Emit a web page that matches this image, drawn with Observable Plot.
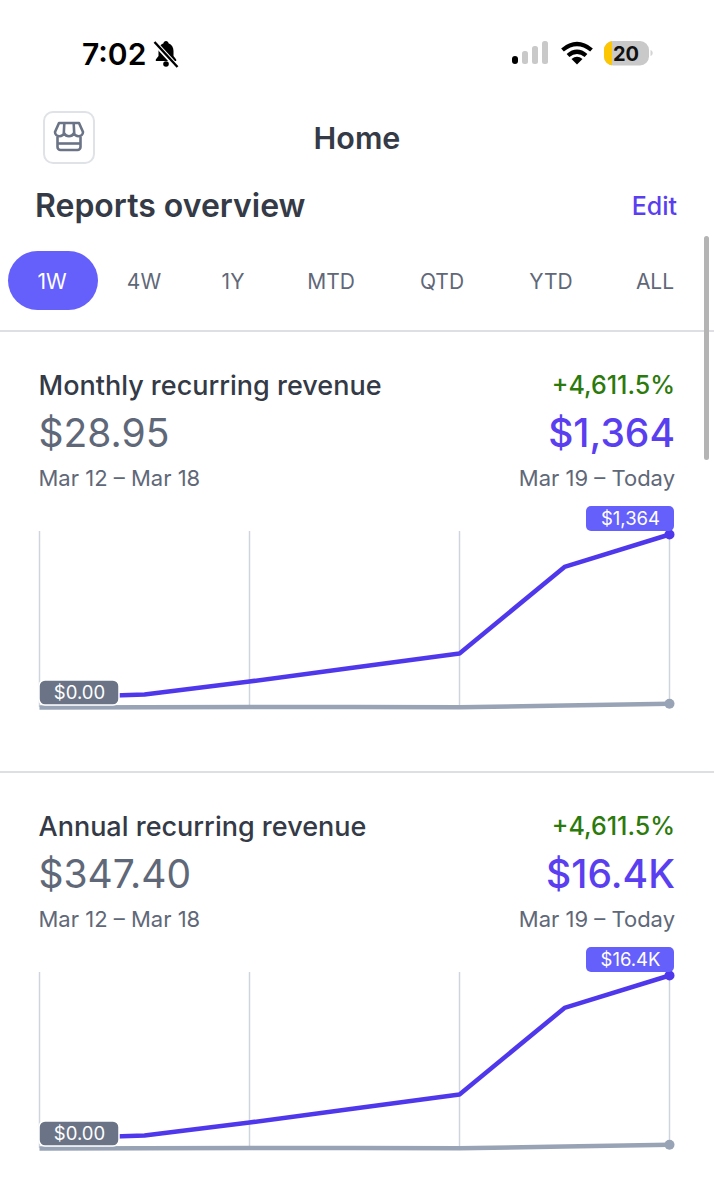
<!DOCTYPE html>
<html>
<head>
<meta charset="utf-8">
<script src="https://cdn.jsdelivr.net/npm/d3@7"></script>
<script src="https://cdn.jsdelivr.net/npm/@observablehq/plot@0.6"></script>
<style>
  html, body { margin: 0; padding: 0; background: #fff; }
  #page { position: relative; width: 714px; height: 1200px; overflow: hidden; font-family: Inter, "Noto Sans", sans-serif; background: #fff; }
  .t { position: absolute; white-space: nowrap; line-height: 1; transform: translateY(-50%); }
  .r { transform: translate(-100%, -50%); }
  .c { transform: translate(-50%, -50%); }
  .rule { position: absolute; left: 0; width: 714px; height: 2px; background: #dddfe3; }
  .box { position: absolute; }
  .chart { position: absolute; left: 0; }
  .chart svg { display: block; }
</style>
</head>
<body>
<div id="page"></div>
<script>
// ---- chart data ----
const days = [0, 1, 2, 3, 4, 5, 6];
const gridDays = [0, 2, 4, 6];
const mrrCurrent = [75, 102, 205, 315, 426, 1108, 1364];
const mrrPrevious = [0, 1, 3, 3, 1, 15, 28.95];
const arrCurrent = [900, 1224, 2460, 3780, 5112, 13296, 16368];
const arrPrevious = [0, 12, 36, 36, 12, 180, 347.4];

// ---- text ----
const tabs = ["1W", "4W", "1Y", "MTD", "QTD", "YTD", "ALL"];
const tabCenters = [52, 144, 233, 331, 442, 551, 655];
const cards = [
  { title: "Monthly recurring revenue", change: "+4,611.5%", previous: "$28.95", current: "$1,364",
    previousRange: "Mar 12 – Mar 18", currentRange: "Mar 19 – Today", startLabel: "$0.00",
    currentValues: mrrCurrent, previousValues: mrrPrevious, top: 0 },
  { title: "Annual recurring revenue", change: "+4,611.5%", previous: "$347.40", current: "$16.4K",
    previousRange: "Mar 12 – Mar 18", currentRange: "Mar 19 – Today", startLabel: "$0.00",
    currentValues: arrCurrent, previousValues: arrPrevious, top: 441 }
];

const INK = "#343a46", SLATE = "#5f6878", VIOLET = "#5a3ff0", LINE = "#4f38ec",
      BADGE = "#6560fb", GREY_BADGE = "#6b7486", GREY_LINE = "#98a4b6", GRID = "#cfd5de", GREEN = "#2b7a0b";

const page = document.getElementById("page");
function text(str, x, y, size, weight, color, cls = "") {
  const el = document.createElement("div");
  el.className = "t " + cls;
  el.textContent = str;
  el.style.cssText = `left:${x}px;top:${y}px;font-size:${size}px;font-weight:${weight};color:${color}`;
  page.appendChild(el);
  return el;
}
function html(markup) {
  const wrap = document.createElement("div");
  wrap.innerHTML = markup;
  while (wrap.firstChild) page.appendChild(wrap.firstChild);
}

// ---- status bar ----
text("7:02", 82, 54, 30, 600, "#000");
html(`<svg class="box" style="left:152px;top:40px" width="28" height="28" viewBox="0 0 28 28">
  <path d="M14 1c1.500 0 2.300 1 2.500 2.200 3.300 1.100 5 4 5 7.800v5l2.700 3.500v1.500H3.800v-1.500L6.500 16v-5c0-3.800 1.700-6.700 5-7.800C11.700 2 12.500 1 14 1z" fill="#000"/>
  <circle cx="14" cy="24" r="2.800" fill="#000"/>
  <path d="M2 2 L25 27" stroke="#fff" stroke-width="5"/><path d="M2.500 2 L25.500 27" stroke="#000" stroke-width="2.400"/></svg>`);
html(`<svg class="box" style="left:510px;top:40px" width="40" height="26" viewBox="0 0 40 26">
  <rect x="2" y="16" width="6" height="8" rx="3" fill="#000"/>
  <rect x="12" y="11" width="6" height="13" rx="2.500" fill="#c9c9c9"/>
  <rect x="22" y="6" width="6" height="18" rx="2.500" fill="#c9c9c9"/>
  <rect x="32" y="1" width="6" height="23" rx="2.500" fill="#c9c9c9"/></svg>`);
html(`<svg class="box" style="left:560px;top:40px" width="34" height="26" viewBox="0 0 34 26">
  <path d="M2.500 10 Q17 -2 31.500 10" fill="none" stroke="#000" stroke-width="4.200"/>
  <path d="M8 15.500 Q17 8 26 15.500" fill="none" stroke="#000" stroke-width="4.200"/>
  <path d="M17 24.500 L11.500 19 Q17 14.500 22.500 19 Z" fill="#000"/></svg>`);
html(`<svg class="box" style="left:603px;top:39px" width="52" height="28" viewBox="0 0 52 28">
  <defs><clipPath id="bat"><rect x="1" y="2" width="45" height="24.500" rx="9"/></clipPath></defs>
  <g clip-path="url(#bat)"><rect x="1" y="2" width="45" height="25" fill="#c9c9c9"/><rect x="1" y="2" width="8" height="25" fill="#fdc602"/></g>
  <path d="M47.500 11v6c1.600-.6 2.200-1.700 2.200-3s-.6-2.400-2.200-3z" fill="#d4d4d4"/></svg>`);
text("20", 626, 54, 20, 700, "#111", "c");

// ---- header ----
html(`<div class="box" style="left:43px;top:111px;width:48px;height:49px;border:2px solid #dfe2e6;border-radius:10px;background:#fff"></div>`);
html(`<svg class="box" style="left:52px;top:120px" width="34" height="34" viewBox="0 0 34 34" fill="none" stroke="#6b7486" stroke-width="2.600" stroke-linejoin="round">
  <path d="M7 3h20l4 9c0 2.600-2 4.200-4.600 4.200-1.900 0-3.600-1-4.600-2.800-.9 1.800-2.800 2.800-4.800 2.800s-3.900-1-4.800-2.800c-1 1.800-2.700 2.800-4.600 2.800C5 16.200 3 14.600 3 12z"/>
  <path d="M12.300 3.500 11.800 13M21.700 3.500 22.200 13"/>
  <path d="M5.500 16.500V27a3 3 0 0 0 3 3h17a3 3 0 0 0 3-3V16.500"/><path d="M5.500 23.500h23"/></svg>`);
text("Home", 357, 138, 30.5, 600, INK, "c");
text("Reports overview", 35, 206, 32, 600, INK);
text("Edit", 677, 206, 25, 500, VIOLET, "r");

// ---- period tabs ----
html(`<div class="box" style="left:8px;top:251px;width:90px;height:59px;border-radius:30px;background:${BADGE}"></div>`);
tabs.forEach((tab, i) => text(tab, tabCenters[i], 281, 21, 400, i === 0 ? "#fff" : SLATE, "c"));
html(`<div class="rule" style="top:330px"></div>`);
html(`<div class="box" style="left:704px;top:236px;width:5px;height:224px;border-radius:3px;background:#b4b4b4"></div>`);

// ---- report cards ----
function sparkline(card) {
  const rows = days.map((d, i) => ({ day: d, current: card.currentValues[i], previous: card.previousValues[i] }));
  const first = rows.slice(0, 1), last = rows.slice(-1);
  const peak = d3.max(card.currentValues);
  const plot = Plot.plot({
    width: 714, height: 240,
    marginLeft: 0, marginRight: 0, marginTop: 0, marginBottom: 0,
    x: { domain: [0, 6], range: [39, 669], axis: null },
    y: { domain: [0, peak], range: [217, 44], axis: null },
    style: { background: "transparent", fontFamily: "Inter, 'Noto Sans', sans-serif", overflow: "visible" },
    marks: [
      Plot.ruleX(gridDays, { x: d => d, y1: peak, y2: 0, insetTop: -3, stroke: GRID, strokeWidth: 1.5 }),
      Plot.line(rows, { x: "day", y: "previous", stroke: GREY_LINE, strokeWidth: 4.5, strokeLinecap: "butt" }),
      Plot.line(rows, { x: "day", y: "current", stroke: LINE, strokeWidth: 4.5, strokeLinecap: "butt", strokeLinejoin: "round" }),
      Plot.dot(last, { x: "day", y: "previous", r: 5, fill: GREY_LINE }),
      Plot.dot(last, { x: "day", y: "current", r: 5, fill: LINE }),
      Plot.rect(last, { x1: "day", x2: "day", y1: "current", y2: "current",
        insetLeft: -83, insetRight: -5, insetTop: -28, insetBottom: 3, rx: 5, fill: BADGE }),
      Plot.text(last, { x: "day", y: "current", text: () => card.current, dx: -39, dy: -15,
        fill: "#fff", fontSize: 18.5, fontWeight: 400 }),
      Plot.rect(first, { x1: "day", x2: "day", y1: 0, y2: 0,
        insetLeft: 0, insetRight: -80, insetTop: -27, insetBottom: 2, rx: 6, fill: GREY_BADGE, stroke: "#fff", strokeWidth: 1.5 }),
      Plot.text(first, { x: "day", y: () => 0, text: () => card.startLabel, dx: 40, dy: -14,
        fill: "#fff", fontSize: 18.5, fontWeight: 400 })
    ]
  });
  const holder = document.createElement("div");
  holder.className = "chart";
  holder.style.top = (490 + card.top) + "px";
  holder.appendChild(plot);
  page.appendChild(holder);
}

cards.forEach(card => {
  const o = card.top;
  text(card.title, 38.500, 385 + o, 27, 500, INK);
  text(card.change, 675, 385 + o, 25, 500, GREEN, "r");
  text(card.previous, 38.500, 432 + o, 39, 400, SLATE);
  text(card.current, 675, 432 + o, 39, 500, VIOLET, "r");
  text(card.previousRange, 38.500, 478 + o, 22, 400, SLATE);
  text(card.currentRange, 675, 478 + o, 22, 400, SLATE, "r");
  sparkline(card);
});
html(`<div class="rule" style="top:771px"></div>`);
</script>
</body>
</html>
